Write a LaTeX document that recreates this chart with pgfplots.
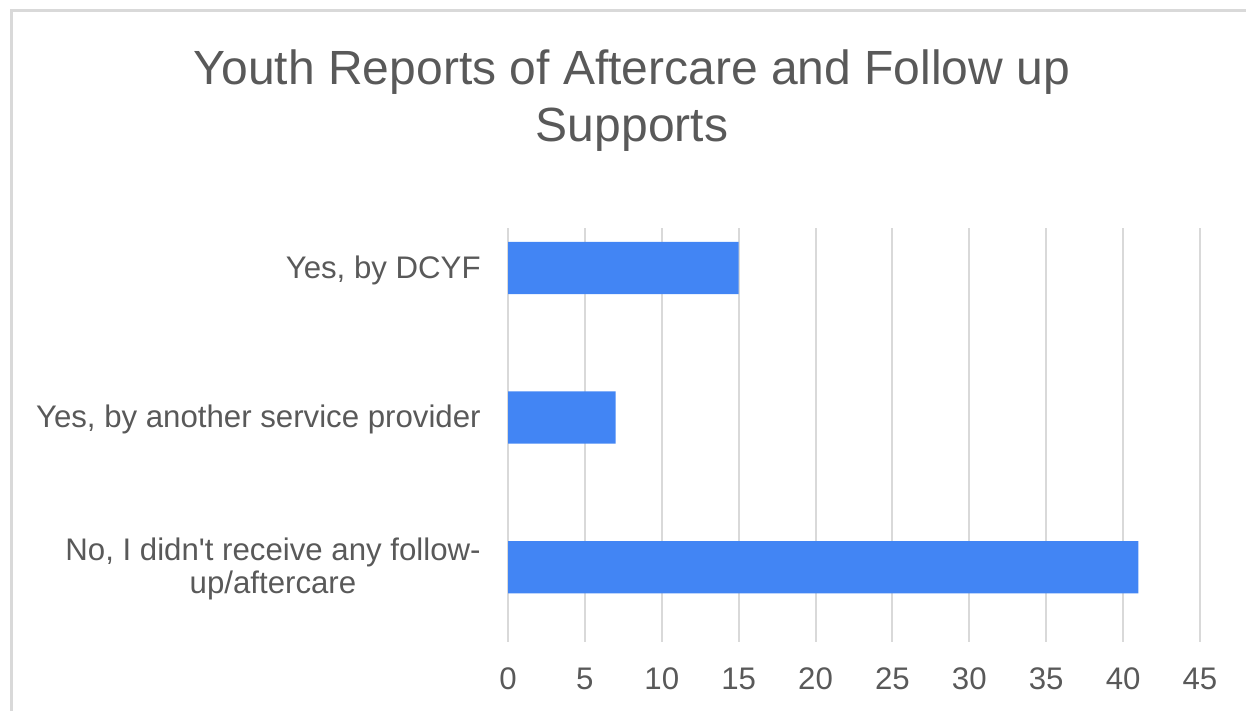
\documentclass[border=0pt]{standalone}
\usepackage{fontspec}
\setmainfont{Liberation Sans}
\usepackage{pgfplots}
\pgfplotsset{compat=1.18}
\definecolor{txt}{HTML}{595959}
\definecolor{gridc}{HTML}{D9D9D9}
\definecolor{barc}{HTML}{4285F4}
\begin{document}
\begin{tikzpicture}
% canvas: 1246x711 px at 0.5pt per px
\path[use as bounding box] (0,0) rectangle (623pt,355.5pt);
\draw[gridc, line width=1.3pt] (5.6pt,0) -- (5.6pt,350.2pt) -- (623pt,350.2pt);
\node[text=txt, font=\fontsize{24}{28.5}\selectfont, align=center] at (316pt,305pt)
  {Youth Reports of Aftercare and Follow up\\Supports};
\begin{axis}[
  at={(254pt,34.5pt)}, anchor=south west,
  scale only axis, width=346pt, height=207pt,
  xbar, bar width=0.35,
  xmin=0, xmax=45, ymin=-0.5, ymax=2.267,
  xtick={0,5,...,45},
  ytick={0,1,2},
  yticklabels={{No, I didn\textquotesingle t receive any follow-\\up/aftercare},{Yes, by another service provider},{Yes, by DCYF}},
  axis line style={draw=none},
  major tick length=0pt,
  xmajorgrids, grid style={gridc, line width=1pt},
  /pgf/number format/assume math mode=true,
  xticklabel style={text=txt, font=\fontsize{15.6}{18}\selectfont, inner sep=0pt, anchor=base, yshift=-23.5pt},
  yticklabel style={text=txt, font=\fontsize{15.6}{16.5}\selectfont, align=center, inner sep=0pt, anchor=east, xshift=-13.5pt, yshift=-1pt},
]
\addplot[fill=barc, draw=none] coordinates {(41,0) (7,1) (15,2)};
\end{axis}
\end{tikzpicture}
\end{document}
